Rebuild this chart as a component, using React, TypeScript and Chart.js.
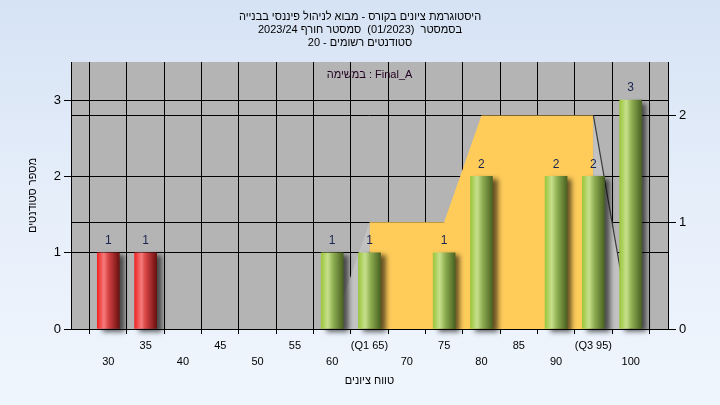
import React, { useEffect, useRef } from 'react';
import { Chart, registerables } from 'chart.js';

Chart.register(...registerables);

const titleLines = [
  'היסטוגרמת ציונים בקורס - מבוא לניהול פיננסי בבנייה',
  'בסמסטר  (01/2023)  סמסטר חורף 2023/24',
  'סטודנטים רשומים - 20',
];
const taskLabel = 'Final_A : במשימה';
const xAxisTitle = 'טווח ציונים';
const yAxisTitle = 'מספר סטודנטים';

const grades = [30, 35, 60, 65, 75, 80, 90, 95, 100];
const studentCounts = [1, 1, 1, 1, 1, 2, 2, 2, 3];
const passMark = 55;

const tickValues = [30, 35, 40, 45, 50, 55, 60, 65, 70, 75, 80, 85, 90, 95, 100];
const tickLabels = ['30', '35', '40', '45', '50', '55', '60', '(Q1 65)', '70', '75', '80', '85', '90', '(Q3 95)', '100'];

const spreadX = [60, 65, 75, 80, 95, 100];
const spreadY = [0, 1, 1, 2, 2, 0];
const q1 = 65;
const q3 = 95;

const FONT = '"Liberation Sans", "DejaVu Sans", Arial, sans-serif';

function barFill(c: any) {
  if (c.type !== 'data') return '#888';
  const chart = c.chart;
  const xs = chart.scales.x;
  const raw = c.raw;
  const red = raw.x < passMark;
  if (!xs || !chart.chartArea) return red ? '#d02020' : '#90b040';
  const px = xs.getPixelForValue(raw.x);
  const g = chart.ctx.createLinearGradient(px - 11, 0, px + 11, 0);
  if (red) {
    g.addColorStop(0, '#f02424');
    g.addColorStop(0.3, '#f67c7c');
    g.addColorStop(0.5, '#d84444');
    g.addColorStop(1, '#6a1010');
  } else {
    g.addColorStop(0, '#9cc63e');
    g.addColorStop(0.3, '#c6e08c');
    g.addColorStop(0.55, '#8eae52');
    g.addColorStop(1, '#4a6222');
  }
  return g;
}

const bgPlugin = {
  id: 'plotBg',
  beforeDraw(chart: any) {
    const { ctx, chartArea: a } = chart;
    ctx.save();
    ctx.fillStyle = '#b4b4b4';
    ctx.fillRect(a.left, a.top, a.right - a.left, a.bottom - a.top);
    ctx.restore();
  },
};

const shadowPlugin = {
  id: 'barShadow',
  beforeDatasetDraw(chart: any, args: any) {
    if (args.index !== 0) return;
    const ctx = chart.ctx;
    ctx.save();
    ctx.shadowColor = 'rgba(0,0,0,0.6)';
    ctx.shadowBlur = 5;
    ctx.shadowOffsetX = 5;
    ctx.shadowOffsetY = 3;
  },
  afterDatasetDraw(chart: any, args: any) {
    if (args.index !== 0) return;
    chart.ctx.restore();
  },
};

const labelPlugin = {
  id: 'valueLabels',
  afterDatasetsDraw(chart: any) {
    const { ctx, chartArea: a } = chart;
    ctx.save();
    ctx.font = '12px ' + FONT;
    ctx.textAlign = 'center';
    ctx.textBaseline = 'middle';
    ctx.fillStyle = '#1a2450';
    const meta = chart.getDatasetMeta(0);
    meta.data.forEach((el: any, i: number) => {
      ctx.fillText(String(studentCounts[i]), el.x, el.y - 12);
    });
    ctx.font = '11px ' + FONT;
    ctx.fillStyle = '#200020';
    ctx.fillText(taskLabel, (a.left + a.right) / 2, a.top + 13);
    ctx.restore();
  },
};

export default function App() {
  const ref = useRef<HTMLCanvasElement | null>(null);

  useEffect(() => {
    document.body.style.margin = '0';
    if (!ref.current) return;
    Chart.defaults.font.family = FONT;
    Chart.defaults.color = '#000';
    const chart = new Chart(ref.current, {
      type: 'bar',
      data: {
        datasets: [
          {
            type: 'bar',
            order: 1,
            yAxisID: 'y',
            data: grades.map((x, i) => ({ x, y: studentCounts[i] })),
            backgroundColor: barFill,
            borderWidth: 0,
            barThickness: 22,
            clip: false,
          } as any,
          {
            type: 'line',
            order: 2,
            yAxisID: 'y2',
            data: spreadX.map((x, i) => ({ x, y: spreadY[i] })),
            fill: 'origin',
            backgroundColor: '#c2c2c2',
            borderColor: 'transparent',
            borderWidth: 1.2,
            pointRadius: 0,
            tension: 0,
            segment: {
              backgroundColor: (c: any) =>
                c.p0.parsed.x >= q1 && c.p1.parsed.x <= q3 ? '#ffcc5a' : '#c2c2c2',
              borderColor: (c: any) => (c.p0.parsed.x >= q3 ? '#3a3a3a' : 'transparent'),
            },
          } as any,
        ],
      },
      options: {
        animation: false,
        responsive: false,
        events: [],
        layout: { padding: 0 },
        plugins: {
          legend: { display: false },
          tooltip: { enabled: false },
          title: {
            display: true,
            text: titleLines,
            color: '#000',
            font: { size: 11, weight: 'normal', lineHeight: 13 / 11 },
            padding: { top: 10, bottom: 13 },
          },
        },
        scales: {
          x: {
            type: 'linear',
            min: 25,
            max: 105,
            offset: false,
            afterBuildTicks: (s: any) => {
              s.ticks = tickValues.map((v) => ({ value: v }));
            },
            afterFit: (s: any) => {
              s.height = 76;
            },
            ticks: {
              autoSkip: false,
              maxRotation: 0,
              minRotation: 0,
              padding: 4,
              color: '#000',
              font: { size: 11, lineHeight: 16 / 11 },
              callback: (_v: any, i: number) => {
                const lab = tickLabels[i];
                return i % 2 === 0 ? ['', lab] : [lab];
              },
            },
            grid: { color: '#000', lineWidth: 1, tickLength: 5 },
            border: { color: '#000' },
            title: {
              display: true,
              text: xAxisTitle,
              color: '#000',
              font: { size: 11, lineHeight: 14 / 11 },
              padding: { top: 0, bottom: 17 },
            },
          },
          y: {
            position: 'left',
            min: 0,
            max: 3.5,
            afterFit: (s: any) => {
              s.width = 71;
            },
            ticks: { stepSize: 1, includeBounds: false, padding: 3, color: '#000', font: { size: 13 } },
            grid: { color: '#000', tickLength: 7 },
            border: { color: '#000' },
            title: {
              display: true,
              text: yAxisTitle,
              color: '#000',
              font: { size: 11, lineHeight: 14 / 11 },
              padding: { top: 26, bottom: 0 },
            },
          },
          y2: {
            position: 'right',
            min: 0,
            max: 2.5,
            afterFit: (s: any) => {
              s.width = 52;
            },
            ticks: { stepSize: 1, includeBounds: false, padding: 3, color: '#000', font: { size: 13 } },
            grid: { color: '#000', tickLength: 8 },
            border: { color: '#000' },
          },
        },
      } as any,
      plugins: [bgPlugin, shadowPlugin, labelPlugin],
    });
    return () => chart.destroy();
  }, []);

  return (
    <div
      style={{
        width: 720,
        height: 405,
        background: 'linear-gradient(to bottom, #d6e3f4 0%, #e6eefa 50%, #f0f6fd 100%)',
      }}
    >
      <canvas ref={ref} dir="rtl" width={720} height={405} style={{ display: 'block' }} />
    </div>
  );
}
